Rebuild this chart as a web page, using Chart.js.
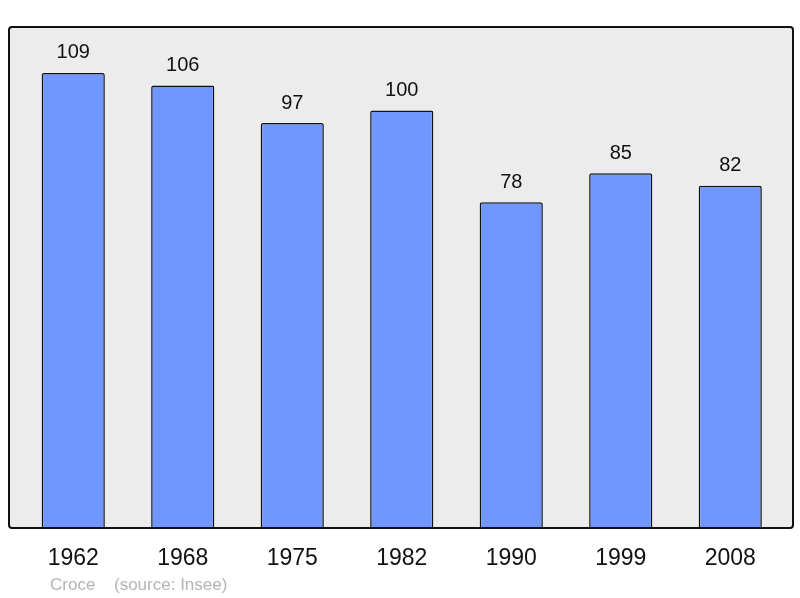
<!DOCTYPE html>
<html>
<head>
<meta charset="utf-8">
<script src="https://cdn.jsdelivr.net/npm/chart.js@4/dist/chart.umd.min.js"></script>
<style>
html,body{margin:0;padding:0;background:#fff;}
#wrap{width:800px;height:598px;}
</style>
</head>
<body>
<div id="wrap"><canvas id="c" width="800" height="598"></canvas></div>
<script>
const years = ["1962", "1968", "1975", "1982", "1990", "1999", "2008"];
const population = [109, 106, 97, 100, 78, 85, 82];
const footerAuthor = "Croce";
const footerSource = "(source: Insee)";

const FONT = "'Liberation Sans', Arial, sans-serif";

const framePlugin = {
  id: 'frame',
  beforeDatasetsDraw(chart) {
    const {ctx, chartArea: a} = chart;
    ctx.save();
    ctx.beginPath();
    ctx.roundRect(a.left - 9.5, a.top, (a.right + 8) - (a.left - 9.5), a.bottom - a.top, 3);
    ctx.fillStyle = '#ececec';
    ctx.fill();
    ctx.restore();
  },
  afterDatasetsDraw(chart) {
    const {ctx, chartArea: a} = chart;
    ctx.save();
    ctx.beginPath();
    ctx.roundRect(a.left - 9.5, a.top, (a.right + 8) - (a.left - 9.5), a.bottom - a.top, 3);
    ctx.lineWidth = 2;
    ctx.strokeStyle = '#111';
    ctx.stroke();
    // value labels
    const meta = chart.getDatasetMeta(0);
    ctx.fillStyle = '#111';
    ctx.font = '20px ' + FONT;
    ctx.textAlign = 'center';
    ctx.textBaseline = 'middle';
    meta.data.forEach((bar, i) => {
      ctx.fillText(String(chart.data.datasets[0].data[i]), bar.x, bar.y - 20);
    });
    // footer
    ctx.fillStyle = '#b4b4b4';
    ctx.font = '17px ' + FONT;
    ctx.textAlign = 'left';
    ctx.fillText(footerAuthor, 50, 585);
    ctx.fillText(footerSource, 114, 585);
    ctx.restore();
  }
};

new Chart(document.getElementById('c'), {
  type: 'bar',
  data: {
    labels: years,
    datasets: [{
      data: population,
      backgroundColor: '#7096ff',
      borderColor: '#111',
      borderWidth: 1.5,
      borderRadius: {topLeft: 2, topRight: 2, bottomLeft: 0, bottomRight: 0},
      borderSkipped: 'bottom',
      barPercentage: 0.577,
      categoryPercentage: 1.0
    }]
  },
  options: {
    responsive: false,
    animation: false,
    layout: { padding: { left: 18.5, right: 15, top: 27, bottom: 0 } },
    plugins: { legend: { display: false }, tooltip: { enabled: false } },
    scales: {
      y: { display: false, min: 0, max: 120 },
      x: {
        grid: { display: false },
        border: { display: false },
        ticks: { color: '#111', font: { family: FONT, size: 23 }, padding: 9, maxRotation: 0 },
        afterFit(axis) { axis.height = 70; }
      }
    }
  },
  plugins: [framePlugin]
});
</script>
</body>
</html>
